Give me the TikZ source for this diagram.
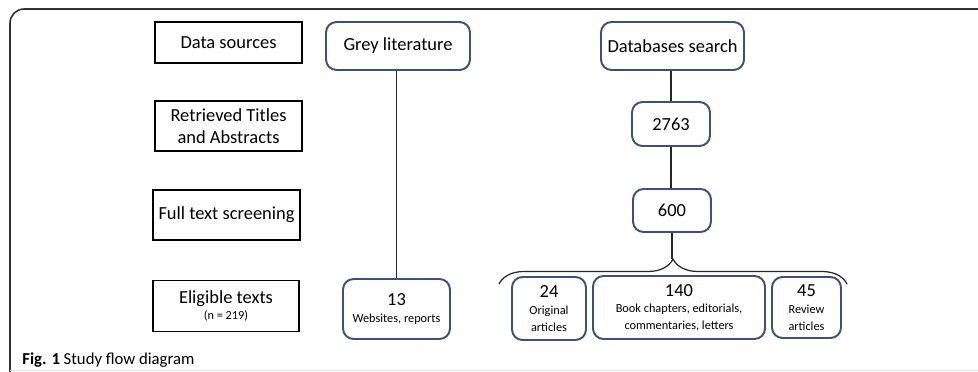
\documentclass[tikz,border=0pt]{standalone}
\usepackage{fontspec}
\setmainfont{Carlito}
\usepackage{xcolor}
\usetikzlibrary{calc,decorations.pathreplacing}
\definecolor{frameline}{HTML}{333333}
\definecolor{boxblue}{HTML}{3D4F7C}
\newcommand{\smalltxt}{\fontsize{7}{8}\selectfont}
\tikzset{
  stage/.style={draw=black, line width=0.95pt, align=center, font=\fontsize{10.5}{12.5}\selectfont, inner sep=1pt},
  item/.style={draw=boxblue, line width=1.1pt, rounded corners=6pt, align=center, font=\fontsize{10.5}{12.5}\selectfont, inner sep=1pt},
  link/.style={draw=black!85, line width=0.7pt},
}
\begin{document}
\begin{tikzpicture}[x=0.02cm, y=-0.02cm]
  \useasboundingbox (0,0) rectangle (978,372);
  % frame
  \draw[frameline, line width=0.9pt, rounded corners=8pt] (10,372) -- (10,9) -- (978,9);
  \draw[black!12, line width=0.6pt] (10,370.5) -- (978,370.5);
  % stage labels
  \node[stage, minimum width=2.94cm, minimum height=0.82cm] (src) at (228.5,42.5) {Data sources};
  \node[stage, minimum width=2.94cm, minimum height=1.0cm] (ret) at (228.5,126) {Retrieved Titles\\and Abstracts};
  \node[stage, minimum width=2.94cm, minimum height=1.0cm] (full) at (226.5,215) {Full text screening};
  \node[stage, minimum width=2.92cm, minimum height=1.02cm] (elig) at (226,306) {Eligible texts\\[-3pt]{\smalltxt(n = 219)}};
  % grey literature
  \node[item, minimum width=2.88cm, minimum height=0.96cm] (grey) at (398,46) {Grey literature};
  \node[item, minimum width=2.14cm, minimum height=1.2cm] (n13) at (396.5,309) {13\\[-3pt]{\smalltxt Websites, reports}};
  % databases
  \node[item, minimum width=2.86cm, minimum height=0.96cm] (dbs) at (672.5,46) {Databases search};
  \node[item, minimum width=1.56cm, minimum height=0.88cm] (n2763) at (671,124) {2763};
  \node[item, minimum width=1.56cm, minimum height=0.86cm] (n600) at (672,210.5) {600};
  \node[item, minimum width=1.48cm, minimum height=1.26cm] (n24) at (549,308.5) {24\\[-3pt]{\smalltxt Original}\\[-3pt]{\smalltxt articles}};
  \node[item, minimum width=3.44cm, minimum height=1.26cm] (n140) at (679,307.5) {140\\[-3pt]{\smalltxt Book chapters, editorials,}\\[-3pt]{\smalltxt commentaries, letters}};
  \node[item, minimum width=1.38cm, minimum height=1.22cm] (n45) at (806.5,307.5) {45\\[-3pt]{\smalltxt Review}\\[-3pt]{\smalltxt articles}};
  \coordinate (bl) at (499,284);
  \coordinate (br) at (847,284);
  \coordinate (tip) at (672,259);
  % connectors
  \draw[link] (grey.south -| n13.north) -- (n13.north);
  \draw[link] (dbs.south -| n2763.north) -- (n2763.north);
  \draw[link] (n2763.south) -- (n2763.south |- n600.north);
  \draw[link] (n600.south) -- (tip);
  \draw[link, decorate, decoration={brace, amplitude=0.5cm, aspect=0.5}] (bl) -- (br);
  % caption
  \node[anchor=base west, inner sep=0pt, font=\fontsize{9.5}{11}\selectfont] (cap) at (22,364) {\textbf{Fig. 1} Study flow diagram};
\end{tikzpicture}
\end{document}
